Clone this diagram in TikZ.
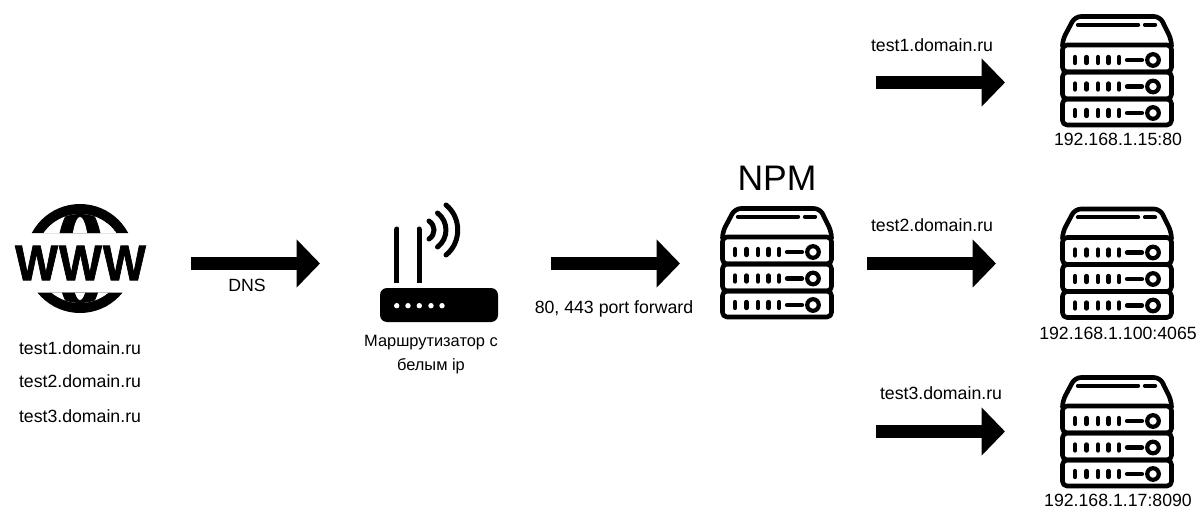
\documentclass[tikz,border=0pt]{standalone}
\usepackage{fontspec}
\setmainfont{Liberation Sans}
\usetikzlibrary{arrows.meta}
\tikzset{
  x=1pt,y=-1pt,
  lbl/.style={font=\fontsize{17.7}{20}\selectfont,inner sep=0pt,text=black},
  cyrlbl/.style={font=\fontsize{16.4}{20}\selectfont,inner sep=0pt,text=black},
  bigarrow/.style={line width=13pt,draw=black,-{Triangle[length=23.5pt,width=47pt]}},
  serverrow/.style={draw=black,line width=4.6pt,rounded corners=4.5pt,line join=round},
  serverbar/.style={line width=4.3pt,line cap=round},
  serverpic/.pic={
    \draw[line width=4.6pt,line join=round,rounded corners=6pt] (2.5,31) -- (2.5,26) -- (15,2.5) -- (100,2.5) -- (111.5,26) -- (111.5,31);
    \foreach \ya/\yb/\ym in {31/58/46, 58/85/72.5, 85/111/99}{
      \draw[serverrow] (2.5,\ya) rectangle (111.5,\yb);
      \foreach \xx in {15,26.5,38,48.5,59}
        \draw[serverbar] (\xx,\ym-3) -- (\xx,\ym+3);
      \draw[serverbar] (67,\ym) -- (82,\ym);
      \draw[line width=4.2pt] (93,\ym) circle[radius=5.8];
    }
    \draw[serverbar] (18,10.7) -- (78,10.7);
    \draw[serverbar] (85,10.7) -- (95,10.7);
  },
  routerarc/.style={line width=5pt,line cap=round},
  routerpic/.pic={
    \fill[black,rounded corners=7pt] (380,288) rectangle (498,322);
    \foreach \xx in {396.7,408,419.3,431,442}
      \fill[white] (\xx,305.7) circle[radius=2.7];
    \draw[line width=5pt] (396.7,283) -- (396.7,229);
    \draw[line width=5pt] (419.3,283) -- (419.3,229);
    \fill (396.7,229) circle[radius=2.5] (419.3,229) circle[radius=2.5];
    \draw[routerarc] (429,221) .. controls (435.7,225.5) and (435.7,234.5) .. (429,239);
    \draw[routerarc] (437.5,213) .. controls (448.8,221.5) and (448.8,238.5) .. (437.5,247);
    \draw[routerarc] (446,205) .. controls (461.6,217.5) and (461.6,242.5) .. (446,255);
  },
  globepic/.pic={
    \begin{scope}
      \clip (0,190) rectangle (160,233) (0,292.5) rectangle (160,330);
      \fill[black] (80,258.5) circle[radius=54.5];
      \begin{scope}
        \clip (80,258.5) circle[radius=44.5];
        \fill[white] (80,258.5) circle[radius=44.5];
        \fill[black] (80,258.5) ellipse[x radius=23,y radius=55];
        \fill[white] (80,258.5) ellipse[x radius=9,y radius=41.5];
      \end{scope}
    \end{scope}
  },
}
\begin{document}
\begin{tikzpicture}
\useasboundingbox[fill=white] (0,0) rectangle (1200,527);
\pic {globepic};
\node[inner sep=0pt,yscale=1.1,transform shape,font=\addfontfeature{FakeBold=1.5}\bfseries\fontsize{45.5}{50}\selectfont] (www) at (80.5,263) {W\kern1ptW\kern1ptW};
\pic {routerpic};
\pic at (720,206) {serverpic};
\pic at (1060,14) {serverpic};
\pic at (1060,206.5) {serverpic};
\pic at (1060,375) {serverpic};

\node[lbl] (t1) at (80,348) {test1.domain.ru};
\node[lbl] (t2) at (80,381) {test2.domain.ru};
\node[lbl] (t3) at (80,416) {test3.domain.ru};
\node[lbl] (dns) at (247,285) {DNS};
\node[cyrlbl] (r1) at (431,343) {Маршрутизатор с};
\node[cyrlbl] (r2) at (431,366) {белым ip};
\node[lbl] (pf) at (614,309) {80, 443 port forward};
\node[inner sep=0pt,font=\fontsize{35.5}{40}\selectfont] (npm) at (777,178) {NPM};
\node[lbl] (a1) at (932,45) {test1.domain.ru};
\node[lbl] (a2) at (932,225) {test2.domain.ru};
\node[lbl] (a3) at (941,393) {test3.domain.ru};
\node[lbl] (s1) at (1118,139) {192.168.1.15:80};
\node[lbl] (s2) at (1118,333) {192.168.1.100:4065};
\node[lbl] (s3) at (1118,500) {192.168.1.17:8090};

\coordinate (c1a) at (191,263.5); \coordinate (c1b) at (320,263.5);
\coordinate (c2a) at (551,263.5); \coordinate (c2b) at (680,263.5);
\coordinate (c3a) at (867,263.5); \coordinate (c3b) at (996,263.5);
\coordinate (c4a) at (876,82.5);  \coordinate (c4b) at (1005,82.5);
\coordinate (c5a) at (876,431.5); \coordinate (c5b) at (1005,431.5);
\draw[bigarrow] (c1a) -- (c1b);
\draw[bigarrow] (c2a) -- (c2b);
\draw[bigarrow] (c3a) -- (c3b);
\draw[bigarrow] (c4a) -- (c4b);
\draw[bigarrow] (c5a) -- (c5b);
\end{tikzpicture}
\end{document}
